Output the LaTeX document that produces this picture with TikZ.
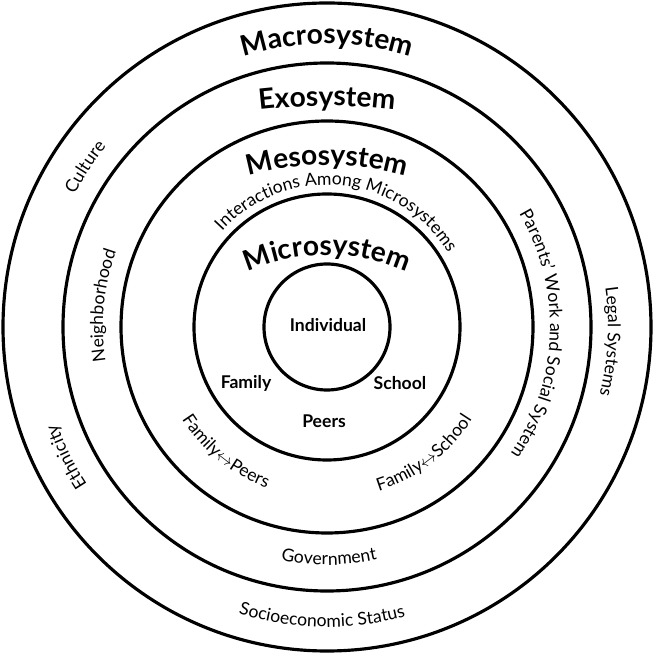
\documentclass[tikz,border=0pt]{standalone}
\usepackage{fontspec}
\setmainfont{Lato}
\usetikzlibrary{decorations.text}
\newcommand{\titel}{\fontsize{16}{19}\selectfont\bfseries}
\newcommand{\etikett}{\fontsize{10}{12}\selectfont}
\tikzset{
  ring/.style={draw, line width=1.8pt},
  bogen/.style={decorate, decoration={text along path, text align=center, text={#1}}},
  feld/.style={font=\fontsize{10}{12}\selectfont\bfseries, inner sep=1pt},
}

\begin{document}
\begin{tikzpicture}
  \useasboundingbox (-6.54,-6.52) rectangle (6.54,6.54);
  % rings
  \draw[ring] (0,0) circle (6.48);
  \draw[ring] (0,0) circle (5.28);
  \draw[ring] (0,0) circle (4.12);
  \draw[ring] (0,0) circle (2.66);
  \node[ring, circle, minimum size=2.52cm, feld] (indiv) at (0,0) {};
  \node[feld] (individual) at (0.02,0.04) {Individual};
  \node[feld] (family) at (-1.62,-1.12) {Family};
  \node[feld] (school) at (1.46,-1.12) {School};
  \node[feld] (peers) at (-0.06,-1.88) {Peers};

  % macrosystem ring
  \path[bogen={|\titel|Macrosystem}] (125:5.66) arc[start angle=125, end angle=55, radius=5.66];
  \path[bogen={|\etikett|Culture}] (170:5.70) arc[start angle=170, end angle=123, radius=5.70];
  \path[bogen={|\etikett|Ethnicity}] (230:5.74) arc[start angle=230, end angle=183, radius=5.74];
  \path[bogen={|\etikett|Legal Systems}] (22:5.62) arc[start angle=22, end angle=-28, radius=5.62];
  \path[bogen={|\etikett|Socioeconomic Status}] (235:6.0) arc[start angle=235, end angle=303, radius=6.0];

  % exosystem ring
  \path[bogen={|\titel|Exosystem}, shift={(0,-7.58)}] (100:12) arc[start angle=100, end angle=80, radius=12];
  \path[bogen={|\etikett|Neighborhood}] (205:4.48) arc[start angle=205, end angle=144, radius=4.48];
  \path[bogen={|\etikett|Parents’ Work and Social System}] (40:4.46) arc[start angle=40, end angle=-44, radius=4.46];
  \path[bogen={|\etikett|Government}] (245:4.76) arc[start angle=245, end angle=296, radius=4.76];

  % mesosystem ring
  \path[bogen={|\titel|Mesosystem}, shift={(0,-2.56)}] (110:5.8) arc[start angle=110, end angle=70, radius=5.8];
  \path[bogen={|\etikett|Interactions Among Microsystems}] (149.5:2.84) arc[start angle=149.5, end angle=19.5, radius=2.84];
  \path[bogen={|\etikett|Family{$\leftrightarrow$}Peers}] (200:3.44) arc[start angle=200, end angle=262, radius=3.44];
  \path[bogen={|\etikett|Family{$\leftrightarrow$}School}] (277:3.44) arc[start angle=277, end angle=338, radius=3.44];

  % microsystem
  \path[bogen={|\titel|Microsystem}, shift={(0,-2.5)}] (125:3.94) arc[start angle=125, end angle=55, radius=3.94];
\end{tikzpicture}
\end{document}
